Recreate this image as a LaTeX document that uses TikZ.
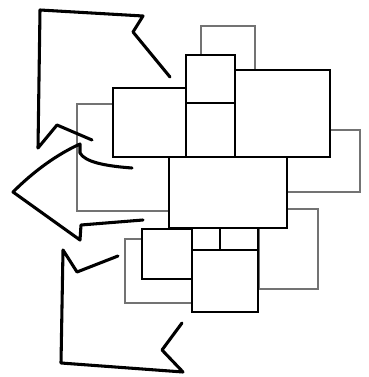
\documentclass[tikz,border=0pt]{standalone}
\begin{document}
\begin{tikzpicture}[x=0.75pt,y=-0.75pt,
  thinbox/.style={draw=black!55,line width=1.1pt,fill=white},
  thickbox/.style={draw=black,line width=1.6pt,fill=white},
  arrowline/.style={draw=black,line width=2.3pt,line join=round,line cap=round}]
\useasboundingbox (0,0) rectangle (368,377);
% thin boxes (behind)
\draw[thinbox] (201,26) rectangle (255,72);
\draw[thinbox] (77,104) rectangle (169,211);
\draw[thinbox] (287,130) rectangle (360,192);
\draw[thinbox] (259,209) rectangle (318,289);
\draw[thinbox] (125,239) rectangle (192,303);
% thick boxes
\draw[thickbox] (186,55) rectangle (235,103);
\draw[thickbox] (186,103) rectangle (235,157);
\draw[thickbox] (235,70) rectangle (330,157);
\draw[thickbox] (113,88) rectangle (186,157);
\draw[thickbox] (169,157) rectangle (287,228);
\draw[thickbox] (142,229) rectangle (192,279);
\draw[thickbox] (192,250) rectangle (258,312);
\draw[thickbox] (192,228) rectangle (220,250);
\draw[thickbox] (220,228) rectangle (258,250);
% arrows
\draw[arrowline] (170,77) -- (133,32) -- (143,16) -- (40,10) -- (38,148) -- (57,125) -- (92,140);
\draw[arrowline] (132,168) .. controls (105,166) and (85,162) .. (80,153) -- (80,144)
  .. controls (58,154) and (35,170) .. (13,192) -- (80,240) -- (81,225) -- (143,220);
\draw[arrowline] (118,256) -- (77,272) -- (63,250) -- (61,363) -- (183,372) -- (162,350) -- (182,323);
\end{tikzpicture}
\end{document}
